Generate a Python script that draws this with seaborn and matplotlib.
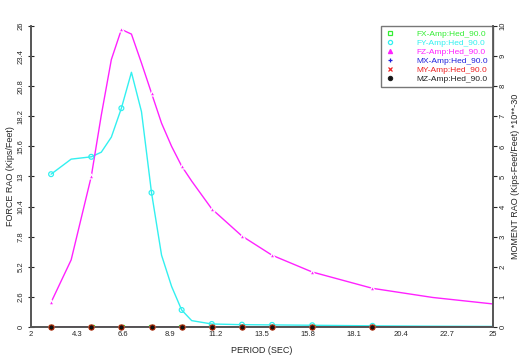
import numpy as np
import pandas as pd
import seaborn as sns
import matplotlib.pyplot as plt

# RAO data, heading 90.0
periods = [3, 4, 5, 5.5, 6, 6.5, 7, 7.5, 8, 8.5, 9, 9.5, 10, 11, 12.5, 14, 16, 19, 22, 25]
fz_amp = [2.13, 5.8, 13.0, 18.3, 23.1, 25.7, 25.3, 22.8, 20.2, 17.6, 15.6, 13.9, 12.6,
          10.2, 7.86, 6.2, 4.75, 3.34, 2.55, 1.99]
fy_amp = [13.2, 14.5, 14.7, 15.1, 16.4, 18.9, 22.0, 18.6, 11.6, 6.2, 3.5, 1.47, 0.55,
          0.26, 0.2, 0.18, 0.15, 0.1, 0.07, 0.05]
fx_amp = [0.0] * len(periods)
mx_amp = [0.0] * len(periods)
my_amp = [0.0] * len(periods)
mz_amp = [0.0] * len(periods)
marker_periods = [3, 5, 6.5, 8, 9.5, 11, 12.5, 14, 16, 19]

x_ticks = [2, 4.3, 6.6, 8.9, 11.2, 13.5, 15.8, 18.1, 20.4, 22.7, 25]
force_ticks = [0, 2.6, 5.2, 7.8, 10.4, 13, 15.6, 18.2, 20.8, 23.4, 26]
moment_ticks = list(range(0, 11))

df = pd.DataFrame({"Period": periods, "FX": fx_amp, "FY": fy_amp, "FZ": fz_amp,
                   "MX": mx_amp, "MY": my_amp, "MZ": mz_amp})
mk = df[df["Period"].isin(marker_periods)]

sns.set_style("white")
plt.rcParams["font.family"] = ["Liberation Sans", "DejaVu Sans"]

fig = plt.figure(figsize=(5.2, 3.62), dpi=100)
ax = fig.add_axes([0.0596, 0.0967, 0.8885, 0.8315])
ax2 = ax.twinx()

series = [
    ("FX", "#33ee33", "s", "none", ax),
    ("FY", "#33f0f0", "o", "none", ax),
    ("FZ", "#ff22ff", "^", "#ff22ff", ax),
    ("MX", "#2222dd", "+", "#2222dd", ax2),
    ("MY", "#ee2222", "x", "#ee2222", ax2),
    ("MZ", "#222222", "o", "#111111", ax2),
]
for name, col, m, fc, a in series:
    sns.lineplot(data=df, x="Period", y=name, color=col, lw=1, ax=a, legend=False)
    kw = dict(marker=m, s=12, color=col, linewidth=0.9, legend=False, ax=a, zorder=4)
    if fc == "none":
        kw.update(facecolor="none", edgecolor=col)
    sns.scatterplot(data=mk, x="Period", y=name, **kw)

# black/red dots sitting on the zero line
ax2.scatter(mk["Period"], mk["MZ"], s=14, color="#111111", edgecolor="#aa2200",
            linewidth=0.8, zorder=6, clip_on=False)

ax.set_xlim(2, 25)
ax.set_ylim(0, 26)
ax2.set_ylim(0, 10)
ax.set_xticks(x_ticks)
ax.set_xticklabels([f"{t:g}" for t in x_ticks], fontsize=5.5)
ax.set_yticks(force_ticks)
ax.set_yticklabels([f"{t:g}" for t in force_ticks], fontsize=5.5, rotation=90, va="center")
ax2.set_yticks(moment_ticks)
ax2.set_yticklabels([str(t) for t in moment_ticks], fontsize=5.5, rotation=90, va="center")

ax.tick_params(axis="x", direction="in", length=3, width=0.8, pad=3)
ax.tick_params(axis="y", direction="inout", length=5, width=0.8, pad=2)
ax2.tick_params(axis="y", direction="out", length=3, width=0.8, pad=2)

for a in (ax, ax2):
    a.spines["top"].set_visible(False)
    for s in ("left", "right", "bottom"):
        a.spines[s].set_color("#555555")
        a.spines[s].set_linewidth(1.2)

ax.set_xlabel("PERIOD (SEC)", fontsize=6.5, labelpad=6)
ax.set_ylabel("FORCE RAO (Kips/Feet)", fontsize=6.5, labelpad=2)
ax2.set_ylabel("MOMENT RAO (Kips-Feet/Feet) *10**-30", fontsize=6.5, labelpad=3)

handles = [plt.Line2D([], [], ls="none", marker=m, color=col, mfc=(fc if fc != "none" else "none"),
                      mec=col, ms=3, mew=0.9)
           for name, col, m, fc, a in series]
labels = [f"{name}-Amp:Hed_90.0" for name, *_ in series]
leg = ax.legend(handles, labels, loc="upper right", fontsize=6, frameon=True, fancybox=False,
                handlelength=1.2, handletextpad=2.6, borderpad=0.55, labelspacing=0.12,
                borderaxespad=0, bbox_to_anchor=(1.0, 1.0))
leg.get_frame().set_edgecolor("#555555")
leg.get_frame().set_linewidth(1.0)
for t, (name, col, *_) in zip(leg.get_texts(), series):
    t.set_color(col)
leg.set_zorder(10)

fig.savefig("out.png", dpi=100)
